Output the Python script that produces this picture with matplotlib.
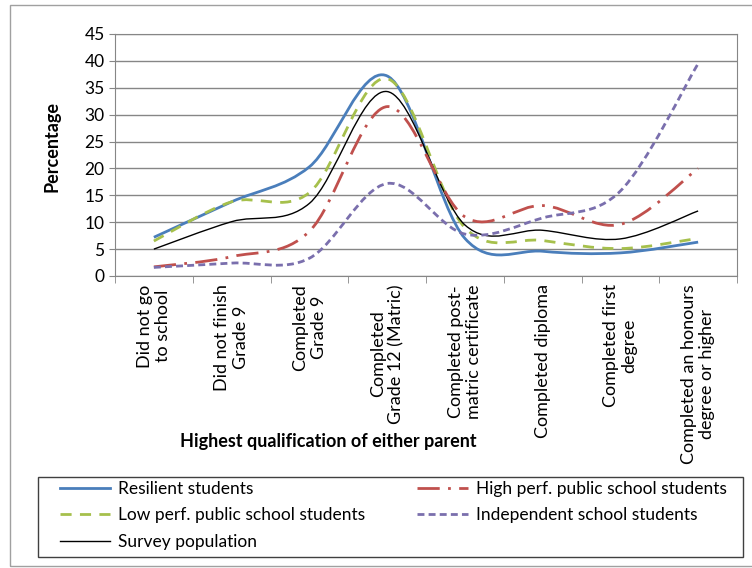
import matplotlib
matplotlib.use("Agg")
import matplotlib.pyplot as plt
from matplotlib.path import Path
from matplotlib.patches import PathPatch, Rectangle
from matplotlib.lines import Line2D

plt.rcParams['font.family'] = ['Lato', 'DejaVu Sans']

categories = ["Did not go\nto school", "Did not finish\nGrade 9", "Completed\nGrade 9",
              "Completed\nGrade 12 (Matric)", "Completed post-\nmatric certificate",
              "Completed diploma", "Completed first\ndegree",
              "Completed an honours\ndegree or higher"]

resilient = [7.2, 13.8, 20.3, 37.2, 7.0, 4.6, 4.3, 6.3]
high_perf = [1.7, 3.6, 8.3, 31.5, 11.0, 13.1, 9.6, 20.0]
low_perf = [6.5, 13.8, 15.5, 36.7, 9.0, 6.6, 5.1, 7.0]
independent = [1.6, 2.4, 3.3, 17.2, 7.8, 10.8, 15.8, 39.5]
survey = [5.0, 10.1, 13.5, 34.3, 9.5, 8.5, 6.9, 12.1]

series = [
    ("Resilient students", resilient, "#4A7EBB", 2.0, "-"),
    ("Low perf. public school students", low_perf, "#A6C04C", 2.0, (0, (4, 3))),
    ("Survey population", survey, "black", 1.0, "-"),
    ("High perf. public school students", high_perf, "#C0504D", 2.0, (0, (8, 3, 1, 3))),
    ("Independent school students", independent, "#7A6FAD", 2.0, (0, (2.5, 1.5))),
]


def smooth_path(ys):
    # Excel-style smoothed line: cubic Bezier segments through the points
    xs = list(range(len(ys)))
    n = len(ys)
    verts = [(xs[0], ys[0])]
    codes = [Path.MOVETO]
    for i in range(n - 1):
        p0 = max(i - 1, 0)
        p3 = min(i + 2, n - 1)
        c1 = (xs[i] + (xs[i + 1] - xs[p0]) / 6, ys[i] + (ys[i + 1] - ys[p0]) / 6)
        c2 = (xs[i + 1] - (xs[p3] - xs[i]) / 6, ys[i + 1] - (ys[p3] - ys[i]) / 6)
        verts += [c1, c2, (xs[i + 1], ys[i + 1])]
        codes += [Path.CURVE4] * 3
    return Path(verts, codes)


fig = plt.figure(figsize=(7.52, 5.68), dpi=100)
fig.patches.append(Rectangle((10 / 752, 2 / 568), 0.99, 561 / 568, transform=fig.transFigure,
                             fill=False, edgecolor="#A0A0A0", lw=1))
ax = fig.add_axes([115 / 752, 1 - 276 / 568, 622 / 752, 242 / 568])

handles = []
for name, vals, color, lw, ls in series:
    patch = PathPatch(smooth_path(vals), fill=False, edgecolor=color, lw=lw, linestyle=ls)
    ax.add_patch(patch)
    handles.append(Line2D([], [], color=color, lw=lw, linestyle=ls, label=name))

ax.set_xlim(-0.5, len(categories) - 0.5)
ax.set_ylim(0, 45)
ax.set_yticks(range(0, 46, 5))
ax.yaxis.grid(True, color="#868686", lw=1)
ax.set_axisbelow(True)
for s in ax.spines.values():
    s.set_color("#868686")

ax.set_xticks(range(len(categories)))
ax.set_xticklabels(categories, rotation=90, ha="center", va="top", multialignment="center", fontsize=13)
ax.set_xticks([i - 0.5 for i in range(len(categories) + 1)], minor=True)
ax.tick_params(axis="x", which="major", length=0, pad=6)
ax.tick_params(axis="x", which="minor", length=5, color="#868686")
ax.tick_params(axis="y", length=4, color="#868686", labelsize=12.5)

fig.text(52 / 752, 1 - 147 / 568, "Percentage", rotation=90, ha="center", va="center",
         fontsize=13, fontweight="bold")
fig.text(328 / 752, 1 - 441 / 568, "Highest qualification of either parent", ha="center",
         va="center", fontsize=13, fontweight="bold")

# legend box
fig.patches.append(Rectangle((38 / 752, 1 - 557 / 568), 705 / 752, 80 / 568,
                             transform=fig.transFigure, fill=False, edgecolor="#404040", lw=1))
leg = fig.legend(handles=handles, ncol=2, loc="upper left",
                 bbox_to_anchor=(60 / 752, 1 - 481 / 568),
                 fontsize=12.5, frameon=False, handlelength=2.9, handletextpad=0.45,
                 columnspacing=3.0, borderpad=0, borderaxespad=0, labelspacing=0.6)

fig.savefig("out.png", dpi=100)
